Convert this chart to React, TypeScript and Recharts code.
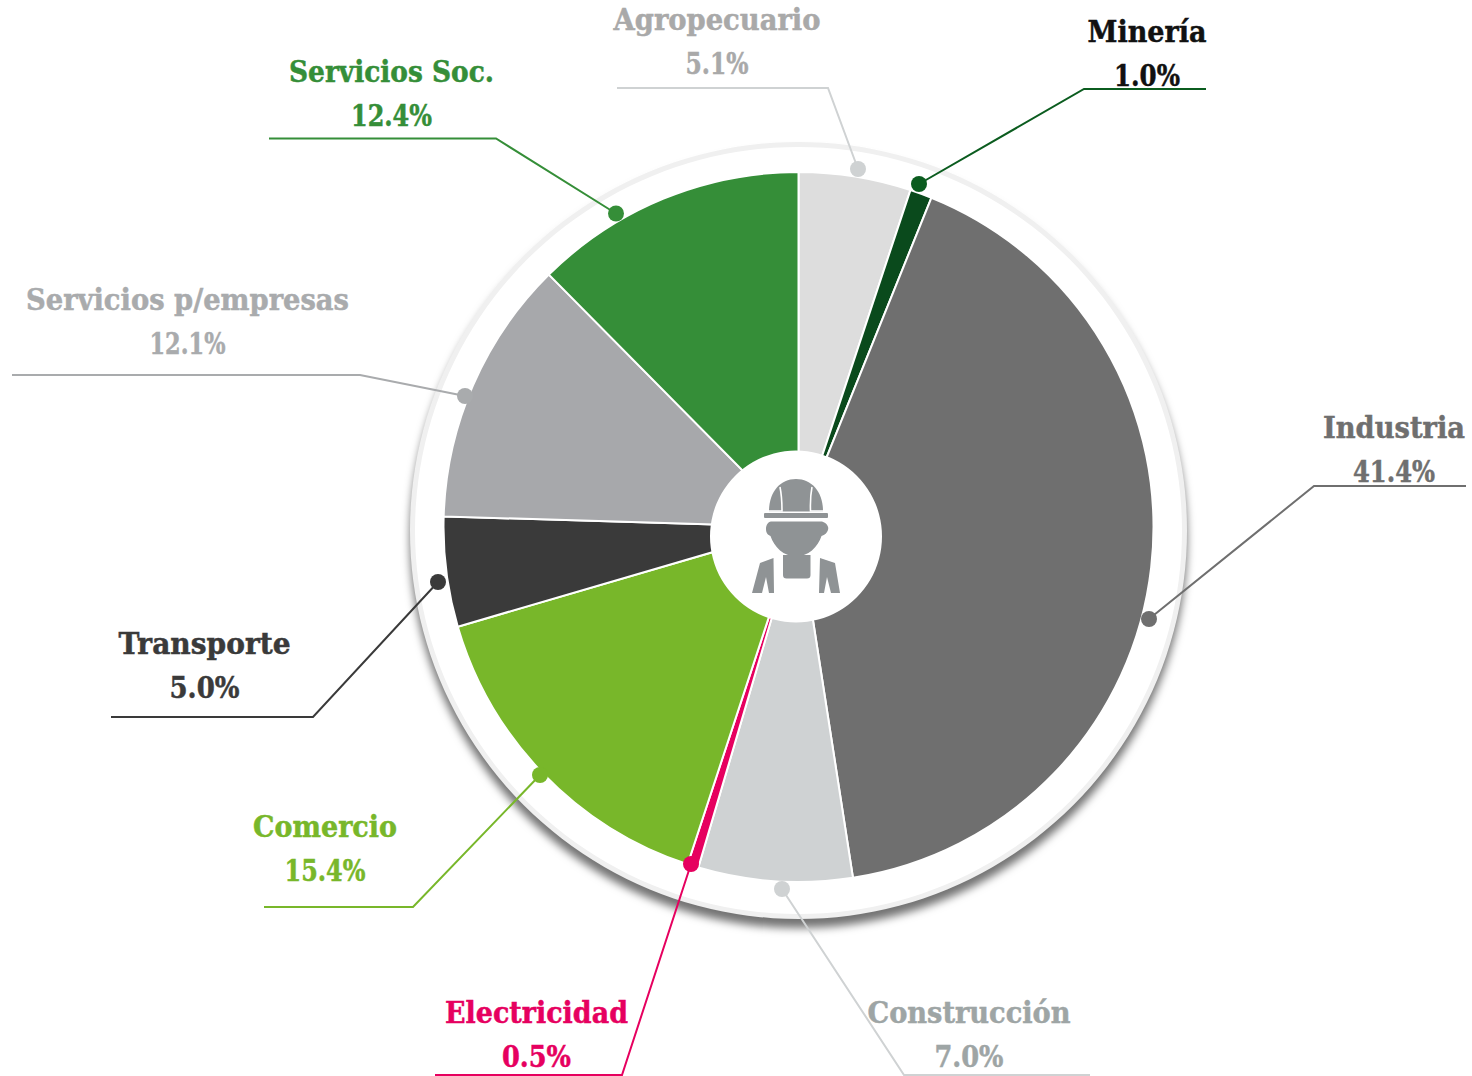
import React from "react";
import { PieChart, Pie, Cell } from "recharts";

const categories = ["Agropecuario", "Minería", "Industria", "Construcción", "Electricidad", "Comercio", "Transporte", "Servicios p/empresas", "Servicios Soc."];
const shares = [5.1, 1.0, 41.4, 7.0, 0.5, 15.4, 5.0, 12.1, 12.4];
const sliceColors = ["#dddddd", "#0a4a1c", "#6f6f6f", "#cfd2d3", "#e6005f", "#78b72a", "#3a3a3a", "#a7a8ab", "#358e38"];
const textColors = ["#a9a9a9", "#111111", "#6f6f6f", "#9ea5a5", "#e6005f", "#78b72a", "#3a3a3a", "#a9abad", "#358e38"];
const lineColors = ["#cfd2d3", "#0b5c1f", "#6f6f6f", "#cfd2d3", "#e6005f", "#78b72a", "#3a3a3a", "#a9abad", "#358e38"];

const tableData = categories.map((name, i) => ({ name, value: shares[i] }));

// Annotation layout (text centre, baselines, fitted widths, leader polyline)
const labelLayout = [
  { x: 717, y: 30, w: 207, vw: 63, pts: "617,88 828,88 858,169" },
  { x: 1147, y: 42, w: 119, vw: 66, pts: "1206,89 1084,89 919,184" },
  { x: 1394, y: 438, w: 142, vw: 82, pts: "1466,486 1314,486 1149,619" },
  { x: 969, y: 1023, w: 203, vw: 69, pts: "1090,1075 904,1075 782,889" },
  { x: 536.5, y: 1023, w: 183, vw: 69, pts: "435,1075 622,1075 691,864" },
  { x: 325, y: 837, w: 144, vw: 81, pts: "264,907 413,907 540,775" },
  { x: 204.5, y: 654, w: 172, vw: 70, pts: "111,717 313,717 438,582" },
  { x: 187.5, y: 310, w: 323, vw: 76, pts: "12,375 360,375 465,396" },
  { x: 391.5, y: 82, w: 205, vw: 81, pts: "269,138.5 496,138.5 616,213.5" },
];

const FONT = "'DejaVu Serif', serif";

function LeaderLabel({ index }: { index: number }) {
  const l = labelLayout[index];
  const last = l.pts.split(" ").pop()!.split(",").map(Number);
  const textProps = {
    textAnchor: "middle" as const,
    fontFamily: FONT,
    fontWeight: 700,
    fontSize: 29,
    fill: textColors[index],
    stroke: textColors[index],
    strokeWidth: 0.5,
    lengthAdjust: "spacingAndGlyphs",
  };
  return (
    <g>
      <polyline points={l.pts} fill="none" stroke={lineColors[index]} strokeWidth={2} />
      <circle cx={last[0]} cy={last[1]} r={8} fill={lineColors[index]} />
      <text x={l.x} y={l.y} textLength={l.w} {...textProps}>
        {categories[index]}
      </text>
      <text x={l.x} y={l.y + 44} textLength={l.vw} {...textProps}>
        {shares[index].toFixed(1)}%
      </text>
    </g>
  );
}

function WorkerIcon() {
  return (
    <g fill="#8f9395">
      <path d="M769 511.5 C769 492 780 479 796 479 C812 479 823 492 823 511.5 Z" />
      <path d="M780 487 Q782 497 782 511 L769 511" fill="none" stroke="#fff" strokeWidth={1.6} />
      <path d="M812 487 Q810 497 810.5 511 L823 511" fill="none" stroke="#fff" strokeWidth={1.6} />
      <rect x={764} y={513} width={64} height={5} rx={1} />
      <path d="M771 521.5 L822 521.5 C827 523 829 527 828 530 C827 533 825 535 821.5 536 C818 547 808 556.5 796 556.5 C784 556.5 774 547 770.5 536 C768 535 766 533 766 529 C766 525 768 522 771 521.5 Z" />
      <path d="M783 555 L810.5 555 L810.5 575 Q810.5 578.5 807 578.5 L786.5 578.5 Q783 578.5 783 575 Z" />
      <path d="M752 593 L760 563 L773.5 558 L774 593 L769 593 L766 577 L762 593 Z" />
      <path d="M840 593 L835 563 L820 558 L819 593 L824 593 L827 577 L831 593 Z" />
    </g>
  );
}

const solidDisc = {
  dataKey: "value",
  innerRadius: 0,
  startAngle: 90,
  endAngle: -270,
  stroke: "none",
  isAnimationActive: false,
  labelLine: false,
};

export default function App() {
  return (
    <div style={{ position: "absolute", left: 0, top: 0, width: 1472, height: 1076, background: "#fff" }}>
      <PieChart width={1472} height={1076} margin={{ top: 0, right: 0, bottom: 0, left: 0 }}>
        <Pie
          {...solidDisc}
          data={[{ name: "aro", value: 1 }]}
          cx={798.5}
          cy={530.5}
          outerRadius={388.5}
          fill="#f0f0f0"
          style={{ filter: "drop-shadow(0px 9px 4px rgba(0,0,0,0.55))" }}
        />
        <Pie
          {...solidDisc}
          data={[{ name: "interior", value: 1 }]}
          cx={798.5}
          cy={530.5}
          outerRadius={383.5}
          fill="#ffffff"
        />
        <Pie
          data={tableData}
          dataKey="value"
          cx={798.5}
          cy={527}
          innerRadius={0}
          outerRadius={355}
          startAngle={90}
          endAngle={-270}
          stroke="#ffffff"
          strokeWidth={2}
          isAnimationActive={false}
          labelLine={false}
          label={(p: any) => <LeaderLabel index={p.index} />}
        >
          {tableData.map((d, i) => (
            <Cell key={d.name} fill={sliceColors[i]} />
          ))}
        </Pie>
        <Pie
          {...solidDisc}
          data={[{ name: "centro", value: 1 }]}
          cx={796}
          cy={536.5}
          outerRadius={86}
          fill="#ffffff"
          label={() => <WorkerIcon />}
        />
      </PieChart>
    </div>
  );
}
